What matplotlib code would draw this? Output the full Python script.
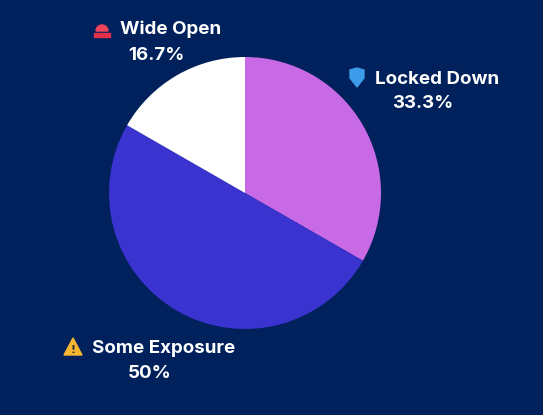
import matplotlib
matplotlib.use("Agg")
import matplotlib.pyplot as plt
from matplotlib.patches import Polygon, Rectangle, Wedge

labels = ["Locked Down", "Some Exposure", "Wide Open"]
values = [33.3, 50.0, 16.7]
colors = ["#c86ae6", "#3a33d0", "#ffffff"]
bg = "#00215c"

W, H = 543, 415
fig = plt.figure(figsize=(W/100, H/100), dpi=100, facecolor=bg)
cx, cy, r = 245, 193, 136
ax = fig.add_axes([(cx-r)/W, 1-(cy+r)/H, 2*r/W, 2*r/H])
ax.set_facecolor(bg)
ax.pie(values, colors=colors, startangle=90, counterclock=False,
       wedgeprops=dict(linewidth=0))
ax.set_xlim(-1, 1); ax.set_ylim(-1, 1)
ax.set_aspect("equal")
ax.axis("off")

def pct(v):
    s = f"{v:.1f}"
    return (s[:-2] if s.endswith(".0") else s) + "%"

fnt = dict(color="white", fontsize=13.5, fontweight="bold", family=["Inter", "DejaVu Sans"])
pos = {"Locked Down": ((375, 79), (423, 103)),
       "Some Exposure": ((92, 348), (150, 374)),
       "Wide Open": ((120, 29), (156, 55))}
for lab, v in zip(labels, values):
    (nx, ny), (px, py) = pos[lab]
    fig.text(nx/W, 1-ny/H, lab, ha="left", va="center", **fnt)
    fig.text(px/W, 1-py/H, pct(v), ha="center", va="center", **fnt)

iax = fig.add_axes([0, 0, 1, 1], facecolor="none")
iax.set_xlim(0, W); iax.set_ylim(H, 0); iax.axis("off")
iax.add_patch(Polygon([(350, 70), (357, 68), (364, 70), (364, 78), (357, 87), (350, 78)],
                      closed=True, color="#3d9be9"))
iax.add_patch(Wedge((102, 31), 6, 180, 360, color="#f0445a"))
iax.add_patch(Rectangle((94, 33), 16, 4, color="#e0304a"))
iax.add_patch(Polygon([(73, 338), (64, 355), (82, 355)], closed=True, color="#f7b731"))
iax.text(73, 350, "!", ha="center", va="center", fontsize=8, fontweight="bold", color="#333")

fig.savefig("out.png", dpi=100, facecolor=bg)
